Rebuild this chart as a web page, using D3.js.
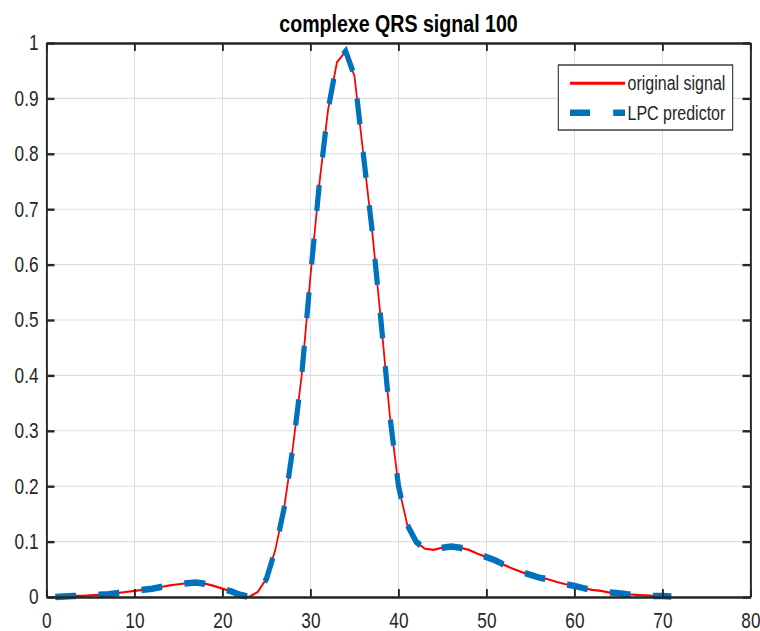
<!DOCTYPE html>
<html>
<head>
<meta charset="utf-8">
<script src="https://cdn.jsdelivr.net/npm/d3@7"></script>
<style>
    body { margin: 0; background: #fff; }
    svg { display: block; }
    text { font-family: "Liberation Sans", Arial, Helvetica, sans-serif; fill: #262626; }
</style>
</head>
<body>
<div id="chart"></div>
<script>
//Datos
const sampleIndex = [1, 2, 3, 4, 5, 6, 7, 8, 9, 10,
    11, 12, 13, 14, 15, 16, 17, 18, 19, 20,
    21, 22, 23, 24, 25, 26, 27, 28, 29, 30,
    31, 32, 33, 34, 35, 36, 37, 38, 39, 40,
    41, 42, 43, 44, 45, 46, 47, 48, 49, 50,
    51, 52, 53, 54, 55, 56, 57, 58, 59, 60,
    61, 62, 63, 64, 65, 66, 67, 68, 69, 70, 71];

const originalSignal = [0.000, 0.001, 0.002, 0.002, 0.003, 0.004, 0.005, 0.007, 0.009, 0.011,
    0.013, 0.015, 0.018, 0.021, 0.023, 0.025, 0.026, 0.024, 0.020, 0.015,
    0.010, 0.004, 0.000, 0.009, 0.033, 0.085, 0.160, 0.270, 0.400, 0.580,
    0.745, 0.880, 0.965, 0.985, 0.940, 0.800, 0.662, 0.500, 0.330, 0.200,
    0.130, 0.100, 0.087, 0.085, 0.089, 0.091, 0.089, 0.085, 0.078, 0.072,
    0.066, 0.058, 0.051, 0.045, 0.040, 0.035, 0.032, 0.027, 0.023, 0.020,
    0.016, 0.013, 0.011, 0.008, 0.007, 0.005, 0.004, 0.003, 0.002, 0.002, 0.001];

const lpcPredictor = [0.000, 0.001, 0.002, 0.002, 0.003, 0.004, 0.005, 0.007, 0.009, 0.011,
    0.013, 0.015, 0.018, 0.021, 0.023, 0.025, 0.026, 0.024, 0.020, 0.015,
    0.010, 0.004, 0.000, 0.009, 0.033, 0.085, 0.160, 0.270, 0.400, 0.580,
    0.745, 0.880, 0.965, 0.985, 0.940, 0.800, 0.662, 0.500, 0.330, 0.200,
    0.130, 0.100, 0.087, 0.085, 0.089, 0.091, 0.089, 0.085, 0.078, 0.072,
    0.066, 0.058, 0.051, 0.045, 0.040, 0.035, 0.032, 0.027, 0.023, 0.020,
    0.016, 0.013, 0.011, 0.008, 0.007, 0.005, 0.004, 0.003, 0.002, 0.002, 0.001];

const xTicks = [0, 10, 20, 30, 40, 50, 60, 70, 80];
const yTicks = [0, 0.1, 0.2, 0.3, 0.4, 0.5, 0.6, 0.7, 0.8, 0.9, 1];
const yTickLabels = ['0', '0.1', '0.2', '0.3', '0.4', '0.5', '0.6', '0.7', '0.8', '0.9', '1'];
const seriesNames = ['original signal', 'LPC predictor'];

const COLOR_SIGNAL = '#FF0000',
    COLOR_LPC = '#0072BD',
    COLOR_AXIS = '#262626',
    COLOR_GRID = '#DEDEDE';

//La figura original está comprimida en horizontal
const K = 0.8;
let W = 760 / K, H = 631;

let margin = {top: 43, right: W - 750.5 / K, bottom: 34, left: 46.5 / K},
    width = W - margin.left - margin.right,
    height = H - margin.top - margin.bottom;

let root = d3.select("#chart")
    .append("svg")
        .attr("width", 760)
        .attr("height", H)
        .attr("viewBox", "0 0 " + W + " " + H)
        .attr("preserveAspectRatio", "none");

let svg = root.append("g")
    .attr("transform", "translate(" + margin.left + "," + margin.top + ")");

let x = d3.scaleLinear()
    .domain([0, 80])
    .range([0, width]);

let y = d3.scaleLinear()
    .domain([0, 1])
    .range([height, 0]);

let data = sampleIndex.map(function(d, i) {
    return {idx: d, signal: originalSignal[i], lpc: lpcPredictor[i]};
});

//Rejilla
svg.append("g")
    .selectAll("line")
    .data(xTicks)
    .enter()
    .append("line")
    .attr("x1", function(d) { return x(d); })
    .attr("x2", function(d) { return x(d); })
    .attr("y1", 0)
    .attr("y2", height)
    .attr("stroke", COLOR_GRID)
    .attr("stroke-width", 1.4);

svg.append("g")
    .selectAll("line")
    .data(yTicks)
    .enter()
    .append("line")
    .attr("x1", 0)
    .attr("x2", width)
    .attr("y1", function(d) { return y(d); })
    .attr("y2", function(d) { return y(d); })
    .attr("stroke", COLOR_GRID)
    .attr("stroke-width", 1.1);

//Líneas
let lineSignal = d3.line()
    .x(function(d) { return x(d.idx); })
    .y(function(d) { return y(d.signal); });

let lineLpc = d3.line()
    .x(function(d) { return x(d.idx); })
    .y(function(d) { return y(d.lpc); });

svg.append("path")
    .datum(data)
    .attr("fill", "none")
    .attr("stroke", COLOR_SIGNAL)
    .attr("stroke-width", 2.2)
    .attr("d", lineSignal);

svg.append("path")
    .datum(data)
    .attr("fill", "none")
    .attr("stroke", COLOR_LPC)
    .attr("stroke-width", 6.5)
    .attr("stroke-dasharray", "26,28")
    .attr("d", lineLpc);

//Ejes
function styleAxis(g) {
    g.attr("font-family", null);
    g.select(".domain").attr("stroke", COLOR_AXIS).attr("stroke-width", 2.4);
    g.selectAll(".tick line").attr("stroke", COLOR_AXIS).attr("stroke-width", 2.4);
    g.selectAll(".tick text")
        .attr("fill", COLOR_AXIS)
        .style("font-size", "21.5px");
}

svg.append("g")
    .attr("transform", "translate(0," + height + ")")
    .call(d3.axisBottom(x).tickValues(xTicks).tickSize(-8).tickSizeOuter(0).tickPadding(15.5))
    .call(styleAxis);

svg.append("g")
    .call(d3.axisTop(x).tickValues(xTicks).tickSize(-8).tickSizeOuter(0).tickFormat(""))
    .call(styleAxis);

svg.append("g")
    .call(d3.axisLeft(y).tickValues(yTicks).tickSize(-10).tickSizeOuter(0).tickPadding(10)
        .tickFormat(function(d, i) { return yTickLabels[i]; }))
    .call(styleAxis);

svg.append("g")
    .attr("transform", "translate(" + width + ",0)")
    .call(d3.axisRight(y).tickValues(yTicks).tickSize(-10).tickSizeOuter(0).tickFormat(""))
    .call(styleAxis);

//Título
svg.append("text")
    .attr("x", width / 2)
    .attr("y", -11.5)
    .attr("text-anchor", "middle")
    .style("font-size", "24.5px")
    .style("font-weight", "bold")
    .style("fill", "#000")
    .text("complexe QRS signal 100");

//Leyenda
let legend = root.append("g");

legend.append("rect")
    .attr("x", 558.3 / K)
    .attr("y", 65)
    .attr("width", (732.7 - 558.3) / K)
    .attr("height", 65)
    .attr("fill", "#fff")
    .attr("stroke", COLOR_AXIS)
    .attr("stroke-width", 1.3);

let legendItems = [
    {name: seriesNames[0], color: COLOR_SIGNAL, width: 3, dash: null, y: 83.3},
    {name: seriesNames[1], color: COLOR_LPC, width: 6.5, dash: "25,29", y: 112.7}
];

legendItems.forEach(function(d) {
    legend.append("line")
        .attr("x1", 570 / K)
        .attr("x2", 625 / K)
        .attr("y1", d.y)
        .attr("y2", d.y)
        .attr("stroke", d.color)
        .attr("stroke-width", d.width)
        .attr("stroke-dasharray", d.dash);

    legend.append("text")
        .attr("x", 627.5 / K)
        .attr("y", d.y + 7)
        .style("font-size", "20px")
        .text(d.name);
});
</script>
</body>
</html>
